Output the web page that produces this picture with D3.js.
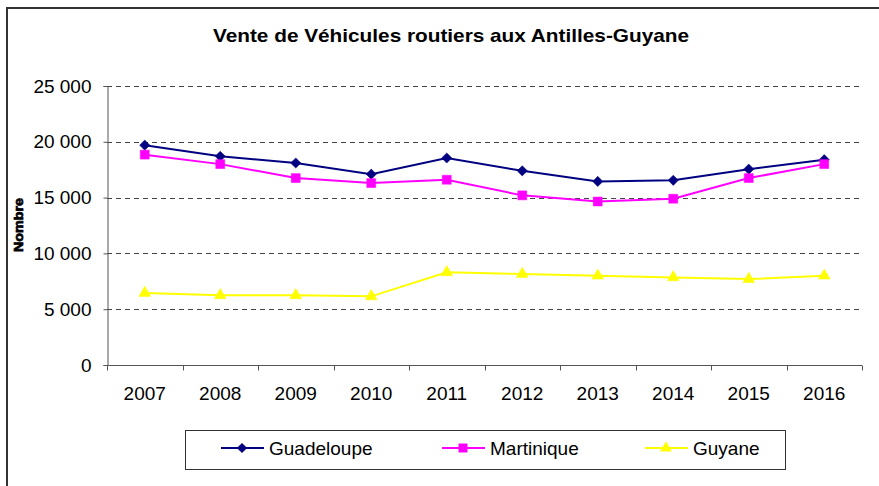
<!DOCTYPE html>
<html>
<head>
<meta charset="utf-8">
<script src="https://cdn.jsdelivr.net/npm/d3@7"></script>
<style>
  body { margin: 0; background: #fff; }
  text { font-family: Arial, "Liberation Sans", sans-serif; fill: #000; }
</style>
</head>
<body>
<div id="chart"></div>
<script>
/**
 * DATA
 * */
const years = ["2007", "2008", "2009", "2010", "2011", "2012", "2013", "2014", "2015", "2016"];
const guadeloupe = [19700, 18700, 18100, 17100, 18550, 17400, 16450, 16550, 17550, 18400];
const martinique = [18850, 18000, 16750, 16300, 16600, 15200, 14650, 14900, 16750, 18000];
const guyane = [6450, 6250, 6250, 6150, 8300, 8150, 8000, 7850, 7700, 8000];
const yTicks = [0, 5000, 10000, 15000, 20000, 25000];

// diamond = square turned 45 degrees
const series = [
  { name: "Guadeloupe", values: guadeloupe, color: "#000080", shape: d3.symbolSquare, size: 52, rot: 45 },
  { name: "Martinique", values: martinique, color: "#FF00FF", shape: d3.symbolSquare, size: 80, rot: 0 },
  { name: "Guyane", values: guyane, color: "#FFFF00", shape: d3.symbolTriangle, size: 60, rot: 0 },
];

/**
 * CONSTANTS
 * */
const width = 879,
  height = 486,
  plot = { left: 107, right: 862, top: 86, bottom: 365 };

const svg = d3.select("#chart")
  .append("svg")
  .attr("width", width)
  .attr("height", height);

// outer frame (only top and left visible in the crop)
svg.append("path")
  .attr("d", `M7,${height + 2} V8 H${width + 2}`)
  .attr("fill", "none")
  .attr("stroke", "#333")
  .attr("stroke-width", 2);

// title
svg.append("text")
  .attr("x", 451)
  .attr("y", 42)
  .attr("text-anchor", "middle")
  .attr("font-size", 19)
  .attr("font-weight", "bold")
  .attr("textLength", 476)
  .attr("lengthAdjust", "spacingAndGlyphs")
  .text("Vente de Véhicules routiers aux Antilles-Guyane");

/**
 * SCALES
 * */
const x = d3.scaleBand()
  .domain(years)
  .range([plot.left, plot.right]);

const y = d3.scaleLinear()
  .domain([0, 25000])
  .range([plot.bottom, plot.top]);

const fmt = v => d3.format(",")(v).replace(/,/g, " ");

// gridlines
svg.append("g")
  .selectAll("line")
  .data(yTicks.filter(d => d > 0))
  .join("line")
  .attr("x1", plot.left)
  .attr("x2", plot.right - 2)
  .attr("y1", d => Math.round(y(d)) + 0.5)
  .attr("y2", d => Math.round(y(d)) + 0.5)
  .attr("stroke", "#444")
  .attr("stroke-dasharray", "5,4");

// y axis
const yAxis = svg.append("g")
  .attr("transform", `translate(${plot.left + 0.5},0)`)
  .call(d3.axisLeft(y).tickValues(yTicks).tickFormat(fmt).tickSize(4).tickPadding(12));
yAxis.select(".domain").attr("stroke", "#555");
yAxis.selectAll(".tick line").attr("stroke", "#555");
yAxis.selectAll("text")
  .attr("font-size", 19)
  .attr("font-family", "Arial, 'Liberation Sans', sans-serif")
  .attr("fill", "#000");

// x axis, ticks between categories
const xAxis = svg.append("g")
  .attr("transform", `translate(0,${plot.bottom + 0.5})`);
xAxis.append("line")
  .attr("x1", plot.left)
  .attr("x2", plot.right)
  .attr("stroke", "#555");
xAxis.selectAll("line.tk")
  .data(years.concat(["end"]))
  .join("line")
  .attr("class", "tk")
  .attr("x1", (d, i) => Math.round(plot.left + i * x.bandwidth()) + 0.5)
  .attr("x2", (d, i) => Math.round(plot.left + i * x.bandwidth()) + 0.5)
  .attr("y1", 0)
  .attr("y2", 5)
  .attr("stroke", "#555");
xAxis.selectAll("text")
  .data(years)
  .join("text")
  .attr("x", d => x(d) + x.bandwidth() / 2)
  .attr("y", 34)
  .attr("text-anchor", "middle")
  .attr("font-size", 19)
  .text(d => d);

// y label
svg.append("text")
  .attr("transform", "translate(23,225) rotate(-90)")
  .attr("text-anchor", "middle")
  .attr("font-size", 13)
  .attr("font-weight", "bold")
  .attr("stroke", "#000")
  .attr("stroke-width", 0.7)
  .attr("textLength", 54)
  .attr("lengthAdjust", "spacingAndGlyphs")
  .text("Nombre");

/**
 * LINES AND MARKERS
 * */
const line = d3.line()
  .x((d, i) => x(years[i]) + x.bandwidth() / 2)
  .y(d => y(d));

series.forEach(s => {
  const g = svg.append("g");
  g.append("path")
    .attr("d", line(s.values))
    .attr("fill", "none")
    .attr("stroke", s.color)
    .attr("stroke-width", 2);
  g.selectAll("path.mark")
    .data(s.values)
    .join("path")
    .attr("class", "mark")
    .attr("transform", (d, i) => `translate(${x(years[i]) + x.bandwidth() / 2},${y(d)}) rotate(${s.rot})`)
    .attr("d", d3.symbol().type(s.shape).size(s.size))
    .attr("fill", s.color)
    .attr("stroke", s.color)
    .attr("stroke-width", 0.5);
});

/**
 * LEGEND
 * */
const legend = svg.append("g");
legend.append("rect")
  .attr("x", 185.5)
  .attr("y", 430.5)
  .attr("width", 600)
  .attr("height", 39)
  .attr("fill", "#fff")
  .attr("stroke", "#333");

const legendX = [221, 442, 645];
series.forEach((s, i) => {
  const lg = legend.append("g").attr("transform", `translate(${legendX[i]},448)`);
  lg.append("line")
    .attr("x1", 0)
    .attr("x2", 43)
    .attr("stroke", s.color)
    .attr("stroke-width", 2);
  lg.append("path")
    .attr("transform", `translate(21,0) rotate(${s.rot})`)
    .attr("d", d3.symbol().type(s.shape).size(s.size))
    .attr("fill", s.color);
  lg.append("text")
    .attr("x", 48)
    .attr("y", 7)
    .attr("font-size", 19)
    .text(s.name);
});
</script>
</body>
</html>
